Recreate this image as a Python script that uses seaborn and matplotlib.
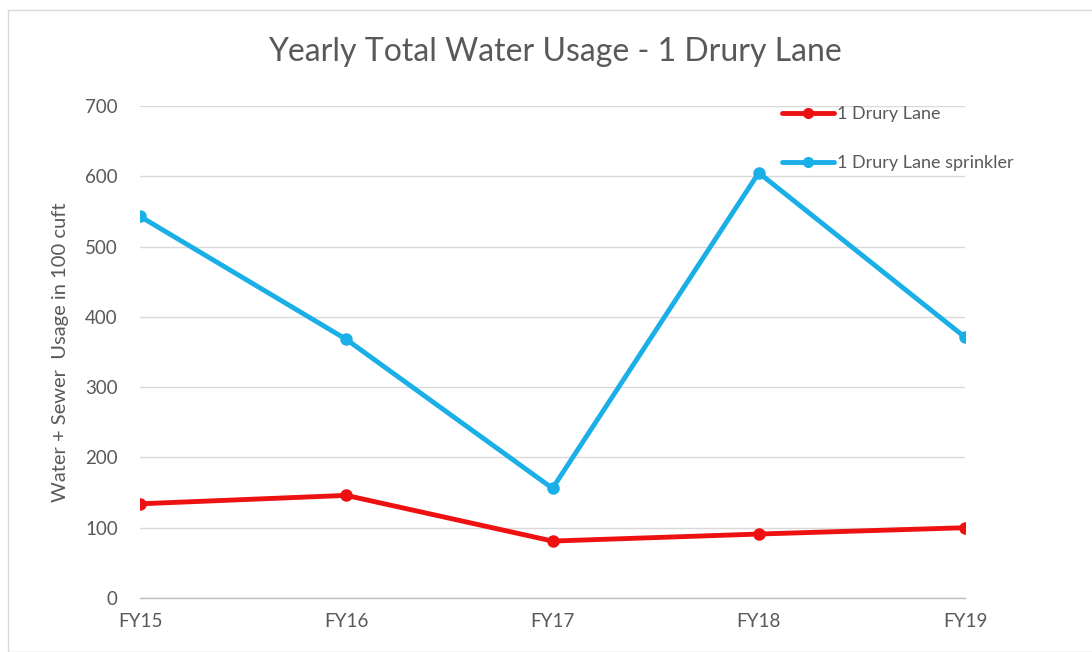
import matplotlib
matplotlib.use("Agg")
import matplotlib.pyplot as plt
import seaborn as sns
import pandas as pd
from matplotlib.patches import Rectangle
from matplotlib.lines import Line2D

years = ["FY15", "FY16", "FY17", "FY18", "FY19"]
drury = [134, 146, 81, 91, 100]
sprinkler = [543, 368, 156, 605, 371]
series_names = ["1 Drury Lane", "1 Drury Lane sprinkler"]
colors = ["#EE1111", "#1AAFE6"]

df = pd.DataFrame({
    "year": years * 2,
    "idx": list(range(len(years))) * 2,
    "value": drury + sprinkler,
    "series": [series_names[0]] * len(years) + [series_names[1]] * len(years),
})

sns.set_theme(style="white")
plt.rcParams["font.family"] = ["Lato", "DejaVu Sans"]
txt = "#595959"

fig = plt.figure(figsize=(10.92, 6.52), dpi=100)
ax = fig.add_axes([140/1092, 1-598/652, (965-140)/1092, (598-106)/652])

sns.lineplot(data=df, x="idx", y="value", hue="series", palette=colors,
             marker="o", markersize=9, markeredgewidth=0, linewidth=3.5,
             ax=ax, legend=False)

ax.set_xlim(0, len(years) - 1)
ax.set_ylim(0, 700)
ax.set_yticks(range(0, 701, 100))
ax.set_xticks(range(len(years)))
ax.set_xticklabels(years)
ax.grid(axis="y", color="#D9D9D9", linewidth=1)
ax.set_axisbelow(True)
for s in ["top", "right", "left"]:
    ax.spines[s].set_visible(False)
ax.spines["bottom"].set_color("#BFBFBF")
ax.spines["bottom"].set_linewidth(1)
ax.tick_params(axis="x", length=6, color="#BFBFBF", colors=txt, labelsize=13.5, pad=5, direction="out")
ax.tick_params(axis="y", length=0, colors=txt, labelsize=13.5, pad=16)
ax.set_xlabel("")
ax.set_ylabel("Water + Sewer  Usage in 100 cuft", color=txt, fontsize=14.5)
ax.yaxis.set_label_coords(-71/825, 0.5)

fig.text(555/1092, 1-52/652, "Yearly Total Water Usage - 1 Drury Lane", ha="center", va="center",
         color=txt, fontsize=23)

handles = [Line2D([], [], color=c, marker="o", markersize=8, markeredgewidth=0, linewidth=3.5)
           for c in colors]
leg = fig.legend(handles, series_names, loc="upper left", bbox_to_anchor=(782/1092, 1-106/652),
                 frameon=False, fontsize=13, labelcolor=txt, handlelength=2.9,
                 handletextpad=0.15, labelspacing=1.85, borderaxespad=0, borderpad=0)

fig.patches.append(Rectangle((8/1092, 0), 1, 1-10/652, transform=fig.transFigure,
                             fill=False, edgecolor="#D9D9D9", linewidth=1))

fig.savefig("out.png", dpi=100)
